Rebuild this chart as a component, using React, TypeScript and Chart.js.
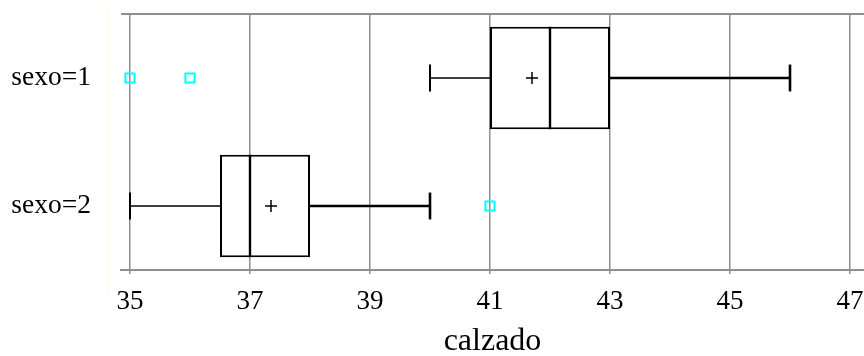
import React, { useEffect, useRef } from "react";
import { Chart, registerables } from "chart.js";

Chart.register(...registerables);

const categories = ["sexo=1", "sexo=2"];
const whiskerLow = [40, 35];
const q1 = [41, 36.5];
const median = [42, 37];
const q3 = [43, 38];
const whiskerHigh = [46, 40];
const means = [41.7, 37.35];
const outliers = [[35, 36], [41]];
const tickValues = [35, 37, 39, 41, 43, 45, 47];
const xTitle = "calzado";

const FONT = "'Liberation Serif', 'Times New Roman', serif";

const boxPlugin = {
  id: "boxExtras",
  beforeDatasetsDraw(chart: any) {
    const { ctx, chartArea } = chart;
    ctx.save();
    // top frame line
    ctx.strokeStyle = "#8f8f8f";
    ctx.lineWidth = 2;
    ctx.beginPath();
    ctx.moveTo(chartArea.left, chartArea.top);
    ctx.lineTo(chartArea.right, chartArea.top);
    ctx.stroke();
    // faint left line
    ctx.strokeStyle = "#fffbdc";
    ctx.lineWidth = 1.5;
    ctx.beginPath();
    ctx.moveTo(108, 8);
    ctx.lineTo(108, 292);
    ctx.stroke();
    ctx.restore();
  },
  afterDatasetsDraw(chart: any) {
    const { ctx } = chart;
    const xs = chart.scales.x;
    const ys = chart.scales.y;
    const band = Math.abs(ys.getPixelForValue(1) - ys.getPixelForValue(0));
    const boxHalf = band * 0.4;
    const capHalf = band * 0.105;
    ctx.save();
    ctx.strokeStyle = "#000";
    ctx.lineCap = "butt";
    categories.forEach((_, i) => {
      const y = ys.getPixelForValue(i);
      const xl = xs.getPixelForValue(whiskerLow[i]);
      const x1 = xs.getPixelForValue(q1[i]);
      const xm = xs.getPixelForValue(median[i]);
      const x3 = xs.getPixelForValue(q3[i]);
      const xh = xs.getPixelForValue(whiskerHigh[i]);
      // low whisker
      ctx.lineWidth = 1.5;
      ctx.beginPath();
      ctx.moveTo(xl, y);
      ctx.lineTo(x1, y);
      ctx.stroke();
      ctx.lineWidth = 2;
      ctx.beginPath();
      ctx.moveTo(xl, y - capHalf);
      ctx.lineTo(xl, y + capHalf);
      ctx.stroke();
      // high whisker
      ctx.lineWidth = 2.6;
      ctx.beginPath();
      ctx.moveTo(x3, y);
      ctx.lineTo(xh, y);
      ctx.stroke();
      ctx.beginPath();
      ctx.moveTo(xh, y - capHalf);
      ctx.lineTo(xh, y + capHalf);
      ctx.stroke();
      // median
      ctx.lineWidth = 2.4;
      ctx.beginPath();
      ctx.moveTo(xm, y - boxHalf);
      ctx.lineTo(xm, y + boxHalf);
      ctx.stroke();
    });
    ctx.restore();
  },
};

export default function App() {
  const ref = useRef<HTMLCanvasElement>(null);
  useEffect(() => {
    if (!ref.current) return;
    const outlierPoints: any[] = [];
    outliers.forEach((arr, i) => arr.forEach((v) => outlierPoints.push({ x: v, y: categories[i] })));
    const meanPoints = means.map((m, i) => ({ x: m, y: categories[i] }));
    const chart = new Chart(ref.current, {
      type: "bar",
      data: {
        labels: categories,
        datasets: [
          {
            type: "scatter",
            data: meanPoints,
            pointStyle: "cross",
            pointRadius: 6,
            borderColor: "#000",
            backgroundColor: "#000",
            borderWidth: 1.5,
          } as any,
          {
            type: "scatter",
            data: outlierPoints,
            pointStyle: "rect",
            pointRadius: 6.5,
            borderColor: "#00ffff",
            backgroundColor: "rgba(0,0,0,0)",
            borderWidth: 2,
          } as any,
          {
            type: "bar",
            data: categories.map((_, i) => [q1[i], q3[i]]),
            backgroundColor: "#ffffff",
            borderColor: "#000",
            borderWidth: 2,
            borderSkipped: false,
            barPercentage: 1,
            categoryPercentage: 0.8,
          } as any,
        ],
      },
      options: {
        indexAxis: "y",
        animation: false,
        responsive: true,
        maintainAspectRatio: false,
        layout: { autoPadding: false, padding: { top: 14, left: 0, right: 0, bottom: 0 } },
        plugins: { legend: { display: false }, tooltip: { enabled: false } },
        scales: {
          x: {
            type: "linear",
            min: 35 - 9 / 60,
            max: 47 + 14 / 60,
            afterBuildTicks: (s: any) => {
              s.ticks = tickValues.map((v) => ({ value: v }));
            },
            afterFit: (s: any) => {
              s.height = 86;
              s.paddingLeft = 0;
              s.paddingRight = 0;
            },
            grid: {
              color: "#8f8f8f",
              lineWidth: 1.5,
              tickLength: 4,
              drawTicks: true,
            },
            border: { display: true, color: "#8f8f8f", width: 2 },
            ticks: {
              color: "#000",
              font: { family: FONT, size: 27 },
              padding: 12,
              maxRotation: 0,
              autoSkip: false,
              callback: (v: any) => String(v),
            },
            title: {
              display: true,
              text: xTitle,
              color: "#000",
              font: { family: FONT, size: 32, lineHeight: 0.9 },
              padding: { top: 0, bottom: 0 },
            },
          },
          y: {
            type: "category",
            offset: true,
            afterFit: (s: any) => {
              s.width = 121;
              s.paddingTop = 0;
              s.paddingBottom = 0;
            },
            grid: { display: false, drawTicks: false },
            border: { display: false },
            ticks: {
              color: "#000",
              font: { family: FONT, size: 27.5 },
              padding: 30,
            },
          },
        },
      } as any,
      plugins: [boxPlugin],
    });
    return () => chart.destroy();
  }, []);
  return (
    <div style={{ position: "fixed", left: 0, top: 0, width: 864, height: 356, background: "#fff" }}>
      <canvas ref={ref} />
    </div>
  );
}
